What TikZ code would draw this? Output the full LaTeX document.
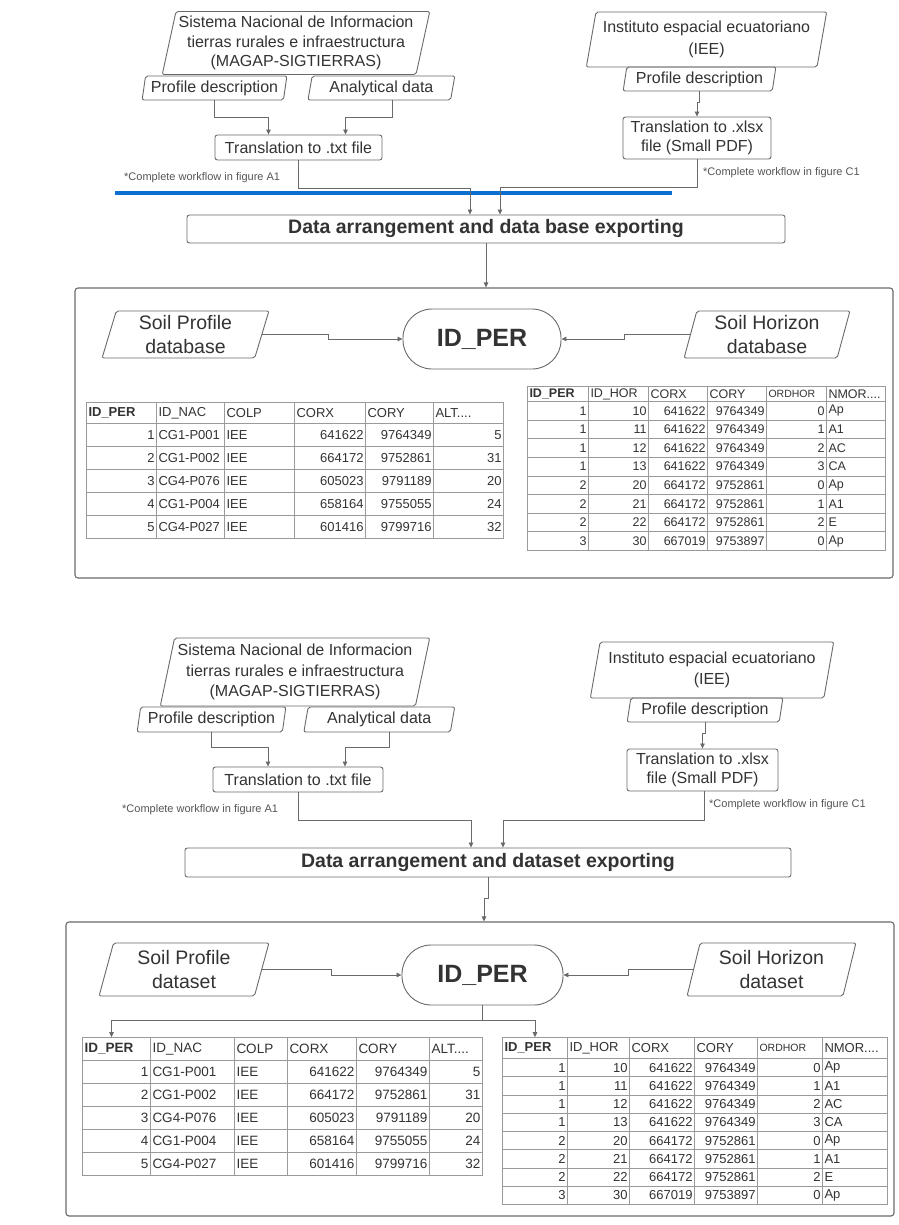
\documentclass[tikz,border=0pt]{standalone}
\usepackage{fontspec}
\setmainfont{Liberation Sans}
\usetikzlibrary{arrows.meta}
\usetikzlibrary{positioning}
\usetikzlibrary{shapes.geometric}
\usetikzlibrary{matrix}

\definecolor{txtgray}{HTML}{333333}
\definecolor{notegray}{HTML}{555555}
\definecolor{linegray}{HTML}{6A6A6A}
\definecolor{gridgray}{HTML}{9A9A9A}
\definecolor{sepblue}{HTML}{0B6FD2}

\tikzset{
  flowtext/.style={font=\fontsize{16}{19.5}\selectfont, text=txtgray, align=center},
  iobox/.style={flowtext, draw=linegray, line width=0.9pt, trapezium,
    trapezium left angle=76, trapezium right angle=104,
    trapezium stretches=true, inner sep=0pt, rounded corners=2pt},
  subiobox/.style={iobox, trapezium left angle=78, trapezium right angle=102},
  soilbox/.style={iobox, font=\fontsize{19.5}{24}\selectfont},
  procbox/.style={flowtext, draw=linegray, line width=0.9pt, rectangle,
    rounded corners=2.5pt, inner sep=0pt},
  keybox/.style={procbox, rounded corners=29pt, font=\bfseries\fontsize{25}{30}\selectfont},
  databox/.style={procbox, font=\bfseries\fontsize{19.5}{23}\selectfont},
  panel/.style={draw=linegray, line width=1.1pt, rounded corners=3pt, inner sep=0pt},
  conn/.style={draw=linegray, line width=0.8pt, -{Triangle[length=5pt,width=4.5pt]}},
  note/.style={font=\fontsize{11}{13}\selectfont, text=notegray, anchor=west, inner sep=0pt},
  tabl/.style={matrix of nodes, column sep=-0.6pt, row sep=-0.6pt, inner sep=0pt,
    nodes={draw=gridgray, line width=0.6pt, text=txtgray, inner xsep=2pt,
      inner ysep=0pt, anchor=center}},
  smallhead/.style={font=\fontsize{10.5}{12}\selectfont},
}

\begin{document}
\begin{tikzpicture}[x=1pt, y=-1pt]
  \fill[white] (0,0) rectangle (898,1225);
  \useasboundingbox (0,0) rectangle (898,1225);

  % ---------- first version ----------
  \node[iobox, minimum width=268pt, minimum height=63pt] (sisA) at (296,43)
    {Sistema Nacional de Informacion\\tierras rurales e infraestructura\\(MAGAP-SIGTIERRAS)};
  \node[subiobox, minimum width=145pt, minimum height=24pt] (profA1) at (214.5,88) {Profile description};
  \node[subiobox, minimum width=147pt, minimum height=24pt, right=24pt of profA1] (anaA) {Analytical data};
  \node[procbox, minimum width=167pt, minimum height=25pt] (txtA) at (298.5,147.5) {Translation to .txt file};

  \node[iobox, minimum width=241pt, minimum height=55pt, font=\fontsize{16}{21.5}\selectfont] (iseA) at (706.5,39.5)
    {Instituto espacial ecuatoriano\\(IEE)};
  \node[subiobox, minimum width=153pt, minimum height=24pt] (profA2) at (699.5,79) {Profile description};
  \node[procbox, minimum width=148pt, minimum height=42pt] (xlsxA) at (697,138)
    {Translation to .xlsx\\file (Small PDF)};

  \node[note] (noteA1) at (124,178) {*Complete workflow in figure A1};
  \node[note] (noteC1) at (703,172.5) {*Complete workflow in figure C1};

  \draw[sepblue, line width=4pt] (115,193) -- (672,193);

  \node[databox, minimum width=598pt, minimum height=28pt] (dataA) at (486,229)
    {Data arrangement and data base exporting};

  \node[panel, minimum width=818pt, minimum height=290pt] (panelA) at (484,433) {};
  \node[soilbox, minimum width=167pt, minimum height=47pt] (soilPA) at (185.5,334.5) {Soil Profile\\database};
  \node[keybox, minimum width=158pt, minimum height=60pt] (idA) at (482,339) {ID\_PER};
  \node[soilbox, minimum width=166pt, minimum height=47pt] (soilHA) at (767,334.5) {Soil Horizon\\database};

  \matrix (tabA1) [tabl, anchor=north west,
    nodes={font=\fontsize{13}{15}\selectfont, minimum height=23pt},
    column 1/.style={nodes={text width=66pt, align=right}},
    column 2/.style={nodes={text width=64pt, align=left}},
    column 3/.style={nodes={text width=66pt, align=left}},
    column 4/.style={nodes={text width=67pt, align=right}},
    column 5/.style={nodes={text width=64pt, align=right}},
    column 6/.style={nodes={text width=66pt, align=right}},
    row 1/.style={nodes={minimum height=21pt, align=left}}] at (86,402) {
    \textbf{ID\_PER} & ID\_NAC & COLP & CORX & CORY & ALT.... \\
    1 & CG1-P001 & IEE & 641622 & 9764349 & 5 \\
    2 & CG1-P002 & IEE & 664172 & 9752861 & 31 \\
    3 & CG4-P076 & IEE & 605023 & 9791189 & 20 \\
    4 & CG1-P004 & IEE & 658164 & 9755055 & 24 \\
    5 & CG4-P027 & IEE & 601416 & 9799716 & 32 \\
  };

  \matrix (tabA2) [tabl, anchor=north west,
    nodes={font=\fontsize{12.5}{14}\selectfont, minimum height=18.6pt},
    column 1/.style={nodes={text width=57pt, align=right}},
    column 2/.style={nodes={text width=56pt, align=right}},
    column 3/.style={nodes={text width=55pt, align=right}},
    column 4/.style={nodes={text width=55pt, align=right}},
    column 5/.style={nodes={text width=56pt, align=right}},
    column 6/.style={nodes={text width=55pt, align=left}},
    row 1/.style={nodes={minimum height=15pt, align=left}}] at (527,386) {
    \textbf{ID\_PER} & ID\_HOR & CORX & CORY & |[smallhead]| ORDHOR & NMOR.... \\
    1 & 10 & 641622 & 9764349 & 0 & Ap \\
    1 & 11 & 641622 & 9764349 & 1 & A1 \\
    1 & 12 & 641622 & 9764349 & 2 & AC \\
    1 & 13 & 641622 & 9764349 & 3 & CA \\
    2 & 20 & 664172 & 9752861 & 0 & Ap \\
    2 & 21 & 664172 & 9752861 & 1 & A1 \\
    2 & 22 & 664172 & 9752861 & 2 & E \\
    3 & 30 & 667019 & 9753897 & 0 & Ap \\
  };

  \draw[conn] (profA1.south) -- ++(0,17) -| ([xshift=-30pt]txtA.north);
  \draw[conn] ([xshift=11pt]anaA.south) -- ++(0,17) -| ([xshift=47pt]txtA.north);
  \draw[conn] (profA2.south) -- ++(0,11) -| (xlsxA.north);
  \draw[conn] (txtA.south) -- ++(0,28) -| ([xshift=-16pt]dataA.north);
  \draw[conn] (xlsxA.south) -- ++(0,28) -| ([xshift=14pt]dataA.north);
  \draw[conn] (dataA.south) -- (dataA.south |- panelA.north);
  \draw[conn] (soilPA.east) -- ++(66,0) |- (idA.west);
  \draw[conn] (soilHA.west) -- ++(-66,0) |- (idA.east);

  % ---------- second version ----------
  \node[iobox, minimum width=270pt, minimum height=68pt, font=\fontsize{16}{20.5}\selectfont] (sisB) at (295,672)
    {Sistema Nacional de Informacion\\tierras rurales e infraestructura\\(MAGAP-SIGTIERRAS)};
  \node[subiobox, minimum width=149pt, minimum height=25pt] (profB1) at (211.5,719.5) {Profile description};
  \node[subiobox, minimum width=151pt, minimum height=25pt, right=21pt of profB1] (anaB) {Analytical data};
  \node[procbox, minimum width=170pt, minimum height=25pt] (txtB) at (298,779.5) {Translation to .txt file};

  \node[iobox, minimum width=244pt, minimum height=56pt, font=\fontsize{16}{21.5}\selectfont] (iseB) at (712,670)
    {Instituto espacial ecuatoriano\\(IEE)};
  \node[subiobox, minimum width=156pt, minimum height=24pt] (profB2) at (705,710) {Profile description};
  \node[procbox, minimum width=151pt, minimum height=42pt] (xlsxB) at (702.5,770)
    {Translation to .xlsx\\file (Small PDF)};

  \node[note] (noteB1) at (122,810) {*Complete workflow in figure A1};
  \node[note] (noteD1) at (709,805) {*Complete workflow in figure C1};

  \node[databox, minimum width=606pt, minimum height=29pt] (dataB) at (488,862.5)
    {Data arrangement and dataset exporting};

  \node[panel, minimum width=828pt, minimum height=294pt] (panelB) at (480,1069) {};
  \node[soilbox, minimum width=170pt, minimum height=53pt] (soilPB) at (184,969.5) {Soil Profile\\dataset};
  \node[keybox, minimum width=161pt, minimum height=60pt] (idB) at (482.5,975) {ID\_PER};
  \node[soilbox, minimum width=169pt, minimum height=53pt] (soilHB) at (771.5,969.5) {Soil Horizon\\dataset};

  \matrix (tabB1) [tabl, anchor=north west,
    nodes={font=\fontsize{13.5}{15}\selectfont, minimum height=23pt},
    column 1/.style={nodes={text width=64pt, align=right}},
    column 2/.style={nodes={text width=80pt, align=left}},
    column 3/.style={nodes={text width=49pt, align=left}},
    column 4/.style={nodes={text width=65pt, align=right}},
    column 5/.style={nodes={text width=69pt, align=right}},
    column 6/.style={nodes={text width=49pt, align=right}},
    row 1/.style={nodes={minimum height=23pt, align=left}}] at (82,1037) {
    \textbf{ID\_PER} & ID\_NAC & COLP & CORX & CORY & ALT.... \\
    1 & CG1-P001 & IEE & 641622 & 9764349 & 5 \\
    2 & CG1-P002 & IEE & 664172 & 9752861 & 31 \\
    3 & CG4-P076 & IEE & 605023 & 9791189 & 20 \\
    4 & CG1-P004 & IEE & 658164 & 9755055 & 24 \\
    5 & CG4-P027 & IEE & 601416 & 9799716 & 32 \\
  };

  \matrix (tabB2) [tabl, anchor=north west,
    nodes={font=\fontsize{13}{14}\selectfont, minimum height=18.25pt},
    column 1/.style={nodes={text width=61pt, align=right}},
    column 2/.style={nodes={text width=58pt, align=right}},
    column 3/.style={nodes={text width=61pt, align=right}},
    column 4/.style={nodes={text width=59pt, align=right}},
    column 5/.style={nodes={text width=61pt, align=right}},
    column 6/.style={nodes={text width=61pt, align=left}},
    row 1/.style={nodes={minimum height=21pt, align=left}}] at (502,1037) {
    \textbf{ID\_PER} & ID\_HOR & CORX & CORY & |[smallhead]| ORDHOR & NMOR.... \\
    1 & 10 & 641622 & 9764349 & 0 & Ap \\
    1 & 11 & 641622 & 9764349 & 1 & A1 \\
    1 & 12 & 641622 & 9764349 & 2 & AC \\
    1 & 13 & 641622 & 9764349 & 3 & CA \\
    2 & 20 & 664172 & 9752861 & 0 & Ap \\
    2 & 21 & 664172 & 9752861 & 1 & A1 \\
    2 & 22 & 664172 & 9752861 & 2 & E \\
    3 & 30 & 667019 & 9753897 & 0 & Ap \\
  };

  \draw[conn] (profB1.south) -- ++(0,15) -| ([xshift=-30pt]txtB.north);
  \draw[conn] ([xshift=10.5pt]anaB.south) -- ++(0,15) -| ([xshift=47pt]txtB.north);
  \draw[conn] (profB2.south) -- ++(0,11) -| (xlsxB.north);
  \draw[conn] (txtB.south) -- ++(0,28) -| ([xshift=-17pt]dataB.north);
  \draw[conn] ([xshift=1.5pt]xlsxB.south) -- ++(0,29) -| ([xshift=15pt]dataB.north);
  \draw[conn] (dataB.south) -- ++(0,21) -| ([xshift=4pt]panelB.north);
  \draw[conn] (soilPB.east) -- ++(69,0) |- (idB.west);
  \draw[conn] (soilHB.west) -- ++(-65,0) |- (idB.east);
  \draw[conn] (idB.south) -- ++(0,15) -| ([xshift=-5pt]tabB1-1-1.north);
  \draw[conn] (idB.south) -- ++(0,15) -| (tabB2-1-1.north);
\end{tikzpicture}
\end{document}
